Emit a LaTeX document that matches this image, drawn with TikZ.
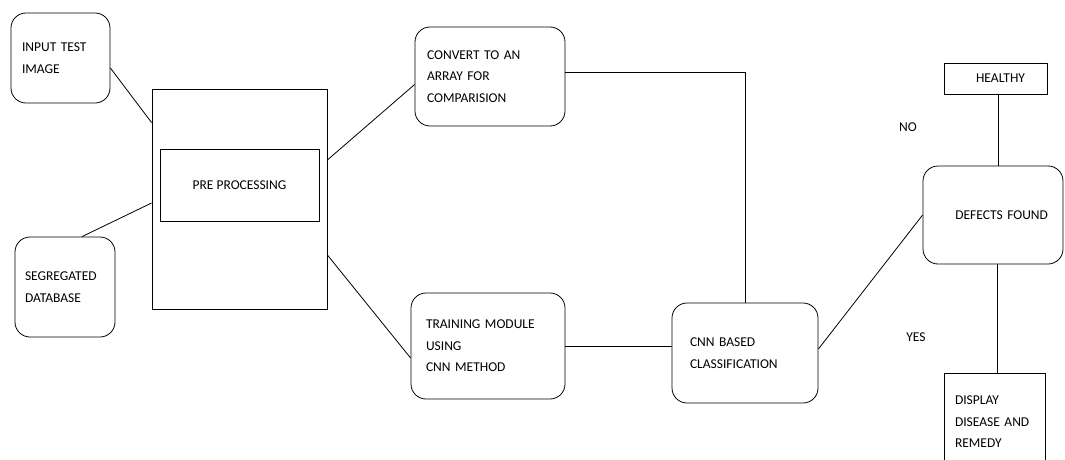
\documentclass[tikz,border=0pt]{standalone}
\usepackage{fontspec}
\setmainfont{Carlito}
\begin{document}
\begin{tikzpicture}[x=1pt,y=-1pt,line join=round,line width=0.8pt,font=\fontsize{13.5}{21.5}\selectfont,
	rbox/.style={draw,rounded corners=15pt,inner ysep=0pt,align=left},
	sbox/.style={draw,inner ysep=0pt}]
		\clip (0,0) rectangle (1065,460);
		\node[rbox,inner xsep=11pt,text width=77pt,minimum height=90pt] (inp) at (60.5,58) {INPUT TEST\\IMAGE};
		\node[rbox,inner xsep=10pt,text width=80pt,minimum height=100pt] (db) at (65,287) {SEGREGATED\\DATABASE};
		\node[sbox,minimum width=175pt,minimum height=220pt] (big) at (239.5,199) {};
		\node[sbox,minimum width=159pt,minimum height=72pt] (pre) at (239.5,185) {PRE PROCESSING};
		\node[rbox,inner xsep=12pt,text width=126pt,minimum height=99pt] (conv) at (490,76.5) {CONVERT TO AN\\ARRAY FOR\\COMPARISION};
		\node[rbox,inner xsep=15pt,text width=124pt,minimum height=106pt] (train) at (488,346) {TRAINING MODULE\\USING\\CNN METHOD};
		\node[rbox,inner xsep=18pt,text width=110pt,minimum height=100pt] (cnn) at (745,353) {CNN BASED\\CLASSIFICATION};
		\node[rbox,inner xsep=15pt,text width=110pt,align=right,minimum height=98pt] (def) at (993,215) {DEFECTS FOUND};
		\node[sbox,inner xsep=22pt,text width=59pt,align=right,minimum height=31pt] (hea) at (995.5,78.5) {HEALTHY};
		\node[sbox,inner xsep=11pt,text width=79pt,align=left,minimum height=98pt] (disp) at (994.5,422) {DISPLAY\\DISEASE AND\\REMEDY};
		\node (no) at (908,127) {NO};
		\node (yes) at (916,337) {YES};
		
		\draw ([yshift=-10pt]inp.east) -- ([yshift=-34pt]big.north west);
		\draw ([xshift=17pt]db.north) -- ([yshift=-4pt]big.west);
		\draw ([yshift=39pt]big.east) -- ([yshift=-8pt]conv.west);
		\draw ([yshift=-56pt]big.east) -- ([yshift=-12pt]train.west);
		\draw ([yshift=4pt]conv.east) -| (cnn.north);
		\draw (train.east) -- (train.east -| cnn.west);
		\draw ([yshift=4pt]cnn.east) -- (def.west);
		\draw ([xshift=3pt]hea.south) -- ([xshift=3pt]hea.south |- def.north);
		\draw ([xshift=3pt]def.south -| disp.north) -- ([xshift=3pt]disp.north);
\end{tikzpicture}
\end{document}
